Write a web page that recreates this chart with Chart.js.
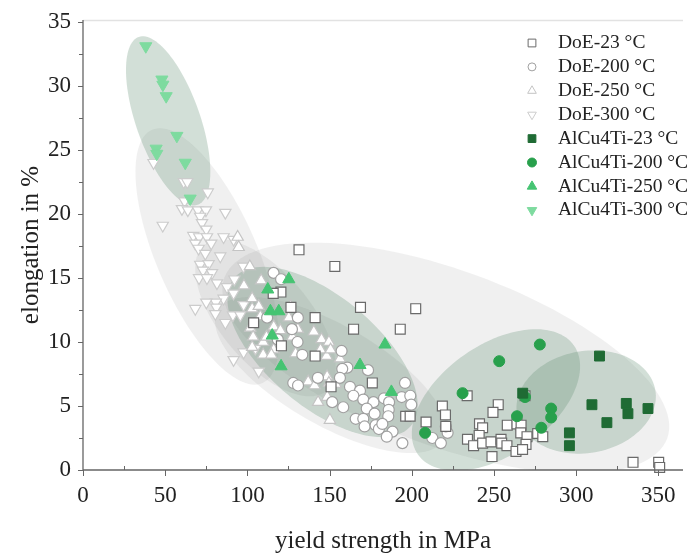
<!DOCTYPE html>
<html>
<head>
<meta charset="utf-8">
<script src="https://cdn.jsdelivr.net/npm/chart.js@4.4.1/dist/chart.umd.min.js"></script>
<style>
  html, body { margin: 0; padding: 0; background: #fff; }
  #wrap { width: 694px; height: 556px; }
</style>
</head>
<body>
<div id="wrap"><canvas id="myChart" width="694" height="556"></canvas></div>
<script>
// tick values
const xTicks = [0, 50, 100, 150, 200, 250, 300, 350];
const yTicks = [0, 5, 10, 15, 20, 25, 30, 35];

// series: yield strength (MPa) and elongation (%)
const doe23X = [131.4, 153.2, 120.4, 115.7, 126.5, 168.8, 141.2, 164.6, 103.8, 120.7, 141.2, 176.0, 150.9, 202.4, 193.0, 196.3, 199.0, 208.7, 218.6, 220.5, 220.7, 233.7, 252.6, 249.4, 241.2, 243.1, 241.0, 233.9, 237.6, 243.1, 248.2, 254.3, 254.7, 257.9, 258.1, 264.0, 266.5, 266.3, 270.1, 269.5, 263.4, 267.4, 276.6, 279.7, 248.8, 334.6, 350.2, 350.8, 268.9];
const doe23Y = [17.2, 15.9, 13.9, 13.8, 12.7, 12.7, 11.9, 11.0, 11.5, 9.7, 8.9, 6.8, 6.5, 12.6, 11.0, 4.2, 4.2, 3.75, 5.0, 4.3, 3.4, 5.8, 5.1, 4.5, 3.6, 3.3, 2.7, 2.4, 1.9, 2.1, 2.2, 2.4, 2.1, 1.9, 3.5, 3.6, 3.5, 2.9, 2.6, 2.0, 1.45, 1.6, 2.85, 2.6, 1.05, 0.6, 0.6, 0.2, 5.8];

const doe200X = [115.9, 120.5, 130.7, 127.1, 130.5, 133.4, 157.3, 160.8, 157.7, 173.4, 142.9, 156.3, 127.9, 130.8, 162.4, 168.5, 164.5, 170.5, 176.7, 183.1, 186.2, 195.9, 193.9, 199.1, 199.7, 186.0, 185.7, 158.3, 172.6, 177.4, 165.9, 170.5, 171.3, 178.0, 180.0, 188.3, 184.8, 194.3, 151.6, 212.5, 217.7, 221.8, 220.7, 182.1, 112.0, 118.5];
const doe200Y = [15.4, 14.9, 11.9, 11.0, 10.0, 9.0, 9.3, 8.0, 7.9, 7.8, 7.2, 7.2, 6.8, 6.6, 6.5, 6.2, 5.8, 5.5, 5.3, 5.6, 5.3, 6.8, 5.7, 5.8, 5.1, 4.7, 4.2, 4.9, 4.8, 4.4, 4.0, 4.0, 3.4, 3.5, 3.2, 3.0, 2.6, 2.1, 5.3, 2.5, 2.1, 2.9, 3.4, 3.6, 11.9, 10.2];

const doe250X = [94.1, 94.7, 101.5, 97.9, 108.4, 102.9, 102.9, 106.9, 107.9, 126.2, 101.8, 103.5, 109.6, 111.6, 102.9, 116.0, 109.6, 114.6, 116.0, 120.1, 125.2, 130.7, 127.3, 129.3, 140.4, 145.1, 149.6, 144.5, 148.2, 156.3, 137.0, 148.5, 149.6, 153.7, 140.9, 148.6, 143.0, 150.2, 150.6];
const doe250Y = [18.2, 17.4, 15.9, 14.4, 14.8, 13.4, 12.6, 12.8, 12.0, 12.8, 11.1, 10.4, 10.0, 10.4, 9.6, 9.4, 9.0, 9.0, 11.2, 10.9, 11.9, 11.0, 10.4, 9.1, 10.8, 10.2, 10.0, 9.4, 8.9, 8.7, 6.9, 7.3, 6.8, 6.7, 6.6, 5.7, 5.3, 3.9, 9.4];

const doe300X = [42.9, 61.3, 63.4, 75.9, 61.8, 60.2, 63.8, 69.9, 74.8, 86.6, 71.3, 48.5, 72.4, 75.0, 67.1, 70.7, 75.4, 85.5, 91.6, 78.0, 68.3, 70.3, 74.4, 83.5, 71.3, 76.4, 73.0, 78.5, 70.6, 75.4, 81.5, 87.6, 92.1, 97.6, 91.6, 85.5, 80.8, 75.0, 68.3, 81.1, 80.5, 86.6, 91.2, 95.7, 97.7, 91.6, 97.7, 106.9, 104.9];
const doe300Y = [24.0, 22.5, 22.5, 21.7, 21.0, 20.4, 20.3, 20.3, 20.3, 20.1, 19.8, 19.1, 19.3, 18.8, 18.3, 18.2, 18.2, 18.2, 18.0, 17.7, 17.7, 17.3, 16.9, 16.7, 16.05, 16.1, 15.6, 15.4, 15.0, 15.0, 14.6, 14.3, 14.9, 15.9, 13.8, 13.4, 13.1, 13.1, 12.6, 12.7, 12.2, 11.5, 12.1, 12.1, 12.9, 8.6, 9.2, 7.7, 9.5];

const alcu23X = [314.2, 267.5, 309.6, 330.5, 331.5, 343.7, 318.7, 295.9, 295.9];
const alcu23Y = [8.9, 6.0, 5.1, 5.2, 4.4, 4.8, 3.7, 2.9, 1.9];

const alcu200X = [277.9, 253.2, 230.9, 268.9, 284.8, 284.8, 264.0, 278.8, 208.1];
const alcu200Y = [9.8, 8.5, 6.0, 5.7, 4.8, 4.1, 4.2, 3.3, 2.9];

const alcu250X = [125.2, 112.4, 114.0, 119.1, 115.1, 120.5, 168.5, 183.7, 187.6];
const alcu250Y = [14.9, 14.1, 12.4, 12.4, 10.5, 8.1, 8.2, 9.8, 6.1];

const alcu300X = [38.2, 48.0, 48.6, 50.6, 57.1, 44.5, 44.9, 62.2, 65.2];
const alcu300Y = [33.1, 30.5, 30.1, 29.2, 26.1, 25.1, 24.7, 24.0, 21.2];

// scatter envelopes: centre and two conjugate half axes, all in data units
const grayEllipses = [
    { cx: 220.7, cy: 8.75, ux: 134.7, uy: -6.28, vx: -18.35, vy: -6.46 },   // DoE-23
    { cx: 150.6, cy: 7.42, ux: 68.65, uy: -5.08, vx: -15.24, vy: -3.38 },   // DoE-200
    { cx: 111.0, cy: 11.88, ux: 37.25, uy: -5.69, vx: -21.02, vy: -2.26 },  // DoE-250
    { cx: 75.6, cy: 16.68, ux: 33.57, uy: -9.89, vx: -27.96, vy: -1.56 }    // DoE-300
];
const greenEllipses = [
    { cx: 306.1, cy: 5.31, ux: 42.04, uy: 0.95, vx: 5.41, vy: -3.92 },     // AlCu4Ti-23
    { cx: 251.2, cy: 5.47, ux: 47.44, uy: 4.26, vx: 19.25, vy: -3.52 },     // AlCu4Ti-200
    { cx: 145.7, cy: 9.22, ux: 53.71, uy: -5.78, vx: -21.56, vy: -3.29 },   // AlCu4Ti-250
    { cx: 51.8, cy: 27.27, ux: 17.85, uy: -6.56, vx: -18.42, vy: -0.82 }    // AlCu4Ti-300
];

const serif = "'Liberation Serif', 'Times New Roman', serif";
const textColor = '#222';

function toPoints(xs, ys) {
    return xs.map((x, i) => ({ x: x, y: ys[i] }));
}

function traceEllipse(ctx, chart, e) {
    const xs = chart.scales.x;
    const ys = chart.scales.y;
    ctx.beginPath();
    for (let i = 0; i <= 120; i++) {
        const t = i / 120 * Math.PI * 2;
        const px = xs.getPixelForValue(e.cx + e.ux * Math.cos(t) + e.vx * Math.sin(t));
        const py = ys.getPixelForValue(e.cy + e.uy * Math.cos(t) + e.vy * Math.sin(t));
        if (i === 0) ctx.moveTo(px, py); else ctx.lineTo(px, py);
    }
    ctx.closePath();
}

const ellipsePlugin = {
    id: 'ellipses',
    beforeDatasetsDraw(chart) {
        const ctx = chart.ctx;
        const area = chart.chartArea;
        ctx.save();
        ctx.beginPath();
        ctx.rect(area.left, area.top, area.right - area.left, area.bottom - area.top);
        ctx.clip();
        grayEllipses.forEach(e => {
            traceEllipse(ctx, chart, e);
            ctx.fillStyle = 'rgba(140, 140, 140, 0.13)';
            ctx.fill();
        });
        greenEllipses.forEach(e => {
            traceEllipse(ctx, chart, e);
            ctx.fillStyle = 'rgba(95, 140, 110, 0.28)';
            ctx.fill();
        });
        ctx.restore();
    }
};

const axesPlugin = {
    id: 'axesFrame',
    afterDatasetsDraw(chart) {
        const ctx = chart.ctx;
        const area = chart.chartArea;
        const xs = chart.scales.x;
        const ys = chart.scales.y;
        ctx.save();
        // light top frame
        ctx.strokeStyle = '#e2e2e2';
        ctx.lineWidth = 1.5;
        ctx.beginPath();
        ctx.moveTo(area.left, area.top + 0.5);
        ctx.lineTo(area.right, area.top + 0.5);
        ctx.stroke();

        ctx.strokeStyle = '#666';
        ctx.lineWidth = 1.3;
        ctx.beginPath();
        ctx.moveTo(area.left, area.top);
        ctx.lineTo(area.left, area.bottom);
        ctx.lineTo(area.right, area.bottom);
        ctx.stroke();

        ctx.lineWidth = 1;
        ctx.beginPath();
        xTicks.forEach((v, i) => {
            const px = Math.round(xs.getPixelForValue(v)) + 0.5;
            ctx.moveTo(px, area.bottom);
            ctx.lineTo(px, area.bottom + 6);
            if (i < xTicks.length - 1) {
                const mx = Math.round(xs.getPixelForValue((v + xTicks[i + 1]) / 2)) + 0.5;
                ctx.moveTo(mx, area.bottom);
                ctx.lineTo(mx, area.bottom - 4);
            }
        });
        yTicks.forEach((v, i) => {
            const py = Math.round(ys.getPixelForValue(v)) + 0.5;
            ctx.moveTo(area.left, py);
            ctx.lineTo(area.left - 5, py);
            if (i < yTicks.length - 1) {
                const my = Math.round(ys.getPixelForValue((v + yTicks[i + 1]) / 2)) + 0.5;
                ctx.moveTo(area.left, my);
                ctx.lineTo(area.left - 4, my);
            }
        });
        ctx.stroke();
        ctx.restore();
    }
};

const legendPlugin = {
    id: 'insideLegend',
    afterDraw(chart) {
        const ctx = chart.ctx;
        const area = chart.chartArea;
        const markerX = area.right - 151;
        const textX = area.right - 125;
        let rowY = area.top + 23;
        ctx.save();
        chart.data.datasets.forEach(ds => {
            ctx.fillStyle = ds.backgroundColor;
            ctx.strokeStyle = ds.borderColor;
            ctx.lineWidth = 1;
            Chart.helpers.drawPoint(ctx, {
                pointStyle: ds.pointStyle,
                radius: ds.legendRadius,
                rotation: ds.rotation || 0,
                borderWidth: 1
            }, markerX, rowY);
            ctx.fillStyle = textColor;
            ctx.font = '19.5px ' + serif;
            ctx.textBaseline = 'middle';
            ctx.textAlign = 'left';
            ctx.fillText(ds.label, textX, rowY);
            rowY += 23.9;
        });
        ctx.restore();
    }
};

function openSet(label, xs, ys, style, edge, radius, legendRadius, rotation) {
    return {
        label: label,
        data: toPoints(xs, ys),
        pointStyle: style,
        rotation: rotation || 0,
        backgroundColor: '#ffffff',
        borderColor: edge,
        borderWidth: 1.2,
        pointRadius: radius,
        legendRadius: legendRadius,
        clip: false,
        order: 2
    };
}

function filledSet(label, xs, ys, style, color, radius, legendRadius, rotation) {
    return {
        label: label,
        data: toPoints(xs, ys),
        pointStyle: style,
        rotation: rotation || 0,
        backgroundColor: color,
        borderColor: color,
        borderWidth: 1,
        pointRadius: radius,
        legendRadius: legendRadius,
        clip: false,
        order: 1
    };
}

const ctx = document.getElementById('myChart').getContext('2d');
const myChart = new Chart(ctx, {
    type: 'scatter',
    data: {
        datasets: [
            openSet('DoE-23 °C', doe23X, doe23Y, 'rect', '#6a6a6a', 7, 5.5),
            openSet('DoE-200 °C', doe200X, doe200Y, 'circle', '#a0a0a0', 5.5, 4),
            openSet('DoE-250 °C', doe250X, doe250Y, 'triangle', '#c4c4c4', 6.5, 5),
            openSet('DoE-300 °C', doe300X, doe300Y, 'triangle', '#cccccc', 6.5, 5, 180),
            filledSet('AlCu4Ti-23 °C', alcu23X, alcu23Y, 'rect', '#1f6b34', 7, 5.5),
            filledSet('AlCu4Ti-200 °C', alcu200X, alcu200Y, 'circle', '#28a04c', 5.5, 4.5),
            filledSet('AlCu4Ti-250 °C', alcu250X, alcu250Y, 'triangle', '#45c472', 7, 5.5),
            filledSet('AlCu4Ti-300 °C', alcu300X, alcu300Y, 'triangle', '#7edb9f', 7, 5.5, 180)
        ]
    },
    options: {
        responsive: false,
        devicePixelRatio: 1,
        animation: false,
        layout: { padding: { left: 6, right: 11, top: 20, bottom: 0 } },
        plugins: {
            legend: { display: false },
            tooltip: { enabled: false }
        },
        scales: {
            x: {
                type: 'linear',
                min: 0,
                max: 365,
                afterBuildTicks: axis => { axis.ticks = xTicks.map(v => ({ value: v })); },
                afterFit: axis => { axis.height = 86; },
                grid: { display: false, drawTicks: false },
                border: { display: false },
                ticks: {
                    color: textColor,
                    font: { family: serif, size: 23 },
                    padding: 12,
                    maxRotation: 0
                },
                title: {
                    display: true,
                    text: 'yield strength in MPa',
                    color: textColor,
                    font: { family: serif, size: 25 },
                    padding: { top: 2, bottom: 0 }
                }
            },
            y: {
                type: 'linear',
                min: 0,
                max: 35.15,
                afterBuildTicks: axis => { axis.ticks = yTicks.map(v => ({ value: v })); },
                afterFit: axis => {
                    axis.width = 77;
                    axis.paddingTop = 0;
                    axis.paddingBottom = 0;
                },
                grid: { display: false, drawTicks: false },
                border: { display: false },
                ticks: {
                    color: textColor,
                    font: { family: serif, size: 23 },
                    padding: 12
                },
                title: {
                    display: true,
                    text: 'elongation in %',
                    color: textColor,
                    font: { family: serif, size: 25 },
                    padding: { top: 10, bottom: 0 }
                }
            }
        }
    },
    plugins: [ellipsePlugin, axesPlugin, legendPlugin]
});
</script>
</body>
</html>
